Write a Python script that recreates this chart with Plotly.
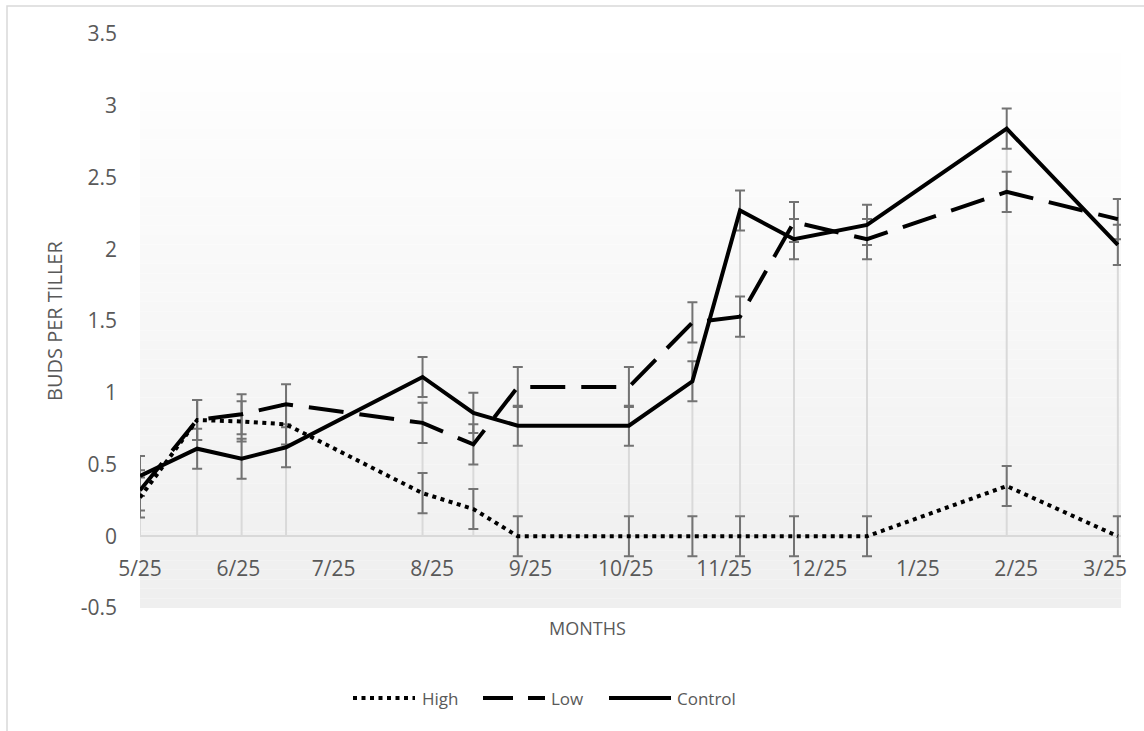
import plotly.graph_objects as go

# Sampling dates and bud counts per tiller for each treatment
dates = ["2014-05-25", "2014-06-12", "2014-06-26", "2014-07-10", "2014-08-22",
         "2014-09-07", "2014-09-21", "2014-10-26", "2014-11-15", "2014-11-30",
         "2014-12-17", "2015-01-09", "2015-02-22", "2015-03-29"]
high = [0.27, 0.81, 0.80, 0.78, 0.30, 0.19, 0.0, 0.0, 0.0, 0.0, 0.0, 0.0, 0.35, 0.0]
low = [0.32, 0.81, 0.85, 0.92, 0.79, 0.64, 1.04, 1.04, 1.49, 1.53, 2.19, 2.07, 2.40, 2.21]
control = [0.42, 0.61, 0.54, 0.62, 1.11, 0.86, 0.77, 0.77, 1.08, 2.27, 2.07, 2.17, 2.84, 2.03]

high_err = [0.14, 0.14, 0.14, 0.14, 0.14, 0.14, 0.14, 0.14, 0.14, 0.14, 0.14, 0.14, 0.14, 0.14]
low_err = [0.14, 0.14, 0.14, 0.14, 0.14, 0.14, 0.14, 0.14, 0.14, 0.14, 0.14, 0.14, 0.14, 0.14]
control_err = [0.14, 0.14, 0.14, 0.14, 0.14, 0.14, 0.14, 0.14, 0.14, 0.14, 0.14, 0.14, 0.14, 0.14]

month_ticks = ["2014-05-25", "2014-06-25", "2014-07-25", "2014-08-25", "2014-09-25",
               "2014-10-25", "2014-11-25", "2014-12-25", "2015-01-25", "2015-02-25",
               "2015-03-25"]
month_labels = ["5/25", "6/25", "7/25", "8/25", "9/25", "10/25", "11/25", "12/25",
                "1/25", "2/25", "3/25"]
y_ticks = [-0.5, 0, 0.5, 1, 1.5, 2, 2.5, 3, 3.5]
y_labels = ["-0.5", "0", "0.5", "1", "1.5", "2", "2.5", "3", "3.5"]

series_names = ["High", "Low", "Control"]
series_values = [high, low, control]
series_errors = [high_err, low_err, control_err]
series_dash = ["4px,4.5px", "35px,16px", "solid"]

W, H = 1144, 731
L, R, T, B = 140, 23, 34, 123
FONT = "Open Sans"
TEXT = "#595959"


def px(x):
    return (x - L) / (W - L - R)


def py(y):
    return (H - B - y) / (H - T - B)


fig = go.Figure()

# Drop lines from the axis up to the highest series at each date
drop_x, drop_y = [], []
for i, d in enumerate(dates):
    top = max(s[i] for s in series_values)
    drop_x += [d, d, None]
    drop_y += [0, top, None]
fig.add_trace(go.Scatter(x=drop_x, y=drop_y, mode="lines",
                         line=dict(color="#d9d9d9", width=2),
                         showlegend=False, hoverinfo="skip"))

# Error bars sit beneath the treatment lines
for vals, errs in zip(series_values, series_errors):
    fig.add_trace(go.Scatter(
        x=dates, y=vals, mode="markers",
        marker=dict(size=1, opacity=0),
        error_y=dict(type="data", array=errs, visible=True,
                     color="#737373", thickness=2, width=5),
        showlegend=False, hoverinfo="skip"))

for name, vals, dash in zip(series_names, series_values, series_dash):
    fig.add_trace(go.Scatter(
        x=dates, y=vals, mode="lines", name=name,
        line=dict(color="black", width=4, dash=dash),
        cliponaxis=False, showlegend=False))

# Plot-area background: soft vertical gradient, white at top to light grey
shapes = []
n_bands = 60
for k in range(n_bands):
    t = k / (n_bands - 1)
    c = int(round(255 - (255 - 239) * t))
    shapes.append(dict(type="rect", xref="x domain", yref="y domain",
                       x0=0, x1=1, y0=1 - (k + 1) / n_bands, y1=1 - k / n_bands,
                       fillcolor=f"rgb({c},{c},{c})", line=dict(width=0),
                       layer="below"))

# Outer chart frame
shapes.append(dict(type="rect", xref="paper", yref="paper",
                   x0=px(7), x1=px(W + 20), y0=py(H + 20), y1=py(6),
                   line=dict(color="#d9d9d9", width=1.5), fillcolor="rgba(0,0,0,0)",
                   layer="below"))

# Legend samples
legend_y = py(698)
legend_items = [("High", 353, 415, "4px,4.5px", 420),
                ("Low", 483, 545, "30px,15px", 549),
                ("Control", 609, 671, "solid", 675)]
annotations = []
for label, x0, x1, dash, tx in legend_items:
    shapes.append(dict(type="line", xref="paper", yref="paper",
                       x0=px(x0), x1=px(x1), y0=legend_y, y1=legend_y,
                       line=dict(color="black", width=4, dash=dash)))
    annotations.append(dict(text=label, xref="paper", yref="paper",
                            x=px(tx), y=legend_y, xanchor="left", yanchor="middle",
                            showarrow=False, font=dict(family=FONT, size=17, color=TEXT)))

# Axis titles
annotations.append(dict(text="BUDS PER TILLER", xref="paper", yref="paper",
                        x=px(54), y=0.5, textangle=-90, xanchor="center", yanchor="middle",
                        showarrow=False, font=dict(family=FONT, size=20, color=TEXT)))
annotations.append(dict(text="MONTHS", xref="paper", yref="paper",
                        x=px(587), y=py(628), xanchor="center", yanchor="middle",
                        showarrow=False, font=dict(family=FONT, size=18, color=TEXT)))

fig.update_layout(
    width=W, height=H, autosize=False,
    margin=dict(l=L, r=R, t=T, b=B),
    paper_bgcolor="white", plot_bgcolor="white",
    shapes=shapes, annotations=annotations,
    showlegend=False,
    xaxis=dict(type="date", range=["2014-05-25", "2015-03-30"],
               tickmode="array", tickvals=month_ticks, ticktext=month_labels,
               showgrid=False, zeroline=False, ticks="",
               showline=True, linecolor="#d9d9d9", linewidth=1.5,
               anchor="free", position=0.125, ticklabelstandoff=14,
               layer="below traces",
               tickfont=dict(family=FONT, size=21, color=TEXT)),
    yaxis=dict(range=[-0.5, 3.5], tickmode="array", tickvals=y_ticks, ticktext=y_labels,
               showgrid=False, zeroline=False, showline=False, ticks="",
               ticklabelstandoff=22,
               tickfont=dict(family=FONT, size=21, color=TEXT)),
)

fig.write_html("out.html")
